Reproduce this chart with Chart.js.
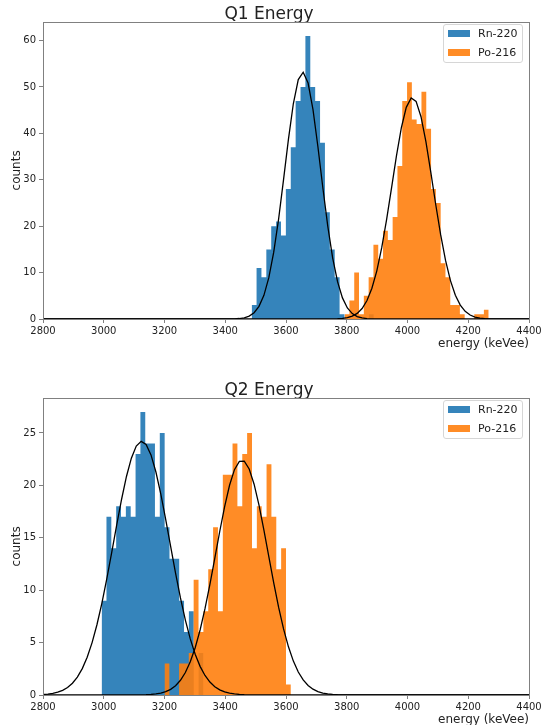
<!DOCTYPE html>
<html>
<head>
<meta charset="utf-8">
<script src="https://cdn.jsdelivr.net/npm/chart.js@4.4.1/dist/chart.umd.min.js"></script>
<style>
    html, body { margin: 0; padding: 0; background: #fff; overflow: hidden; }
    #page { position: relative; width: 549px; height: 725px; overflow: hidden; }
    .panel { position: absolute; left: 0; width: 549px; height: 376px; }
    .legend {
        position: absolute; left: 443px; top: 24px; width: 78px; height: 37px;
        border: 1px solid #d6d6d6; border-radius: 3px; background: rgba(255, 255, 255, 0.8);
        font-family: 'DejaVu Sans', sans-serif; font-size: 11px; color: #222;
    }
    .legend .sw { position: absolute; left: 4px; width: 22px; height: 7px; }
    .legend .txt { position: absolute; left: 34px; height: 13px; line-height: 13px; white-space: nowrap; }
</style>
</head>
<body>
<div id="page">
    <div class="panel" style="top: 0">
        <canvas id="q1Chart" width="549" height="376"></canvas>
        <div class="legend" id="q1Legend"></div>
    </div>
    <div class="panel" style="top: 376px">
        <canvas id="q2Chart" width="549" height="376"></canvas>
        <div class="legend" id="q2Legend"></div>
    </div>
</div>
<script>
// Axis ticks
const energyTicks = [2800, 3000, 3200, 3400, 3600, 3800, 4000, 4200, 4400];
const q1CountTicks = [0, 10, 20, 30, 40, 50, 60];
const q2CountTicks = [0, 5, 10, 15, 20, 25];

const seriesNames = ['Rn-220', 'Po-216'];

// Q1 histograms (first bin edge, bin width in keVee, counts per bin)
const q1RnStart = 3487;
const q1RnWidth = 16.08;
const q1RnCounts = [3, 11, 9, 15, 20, 21, 18, 28, 37, 47, 50, 61, 50, 47, 38, 23, 15, 9, 1, 0, 0, 0, 0, 0, 1];
const q1PoStart = 3793;
const q1PoWidth = 15.81;
const q1PoCounts = [1, 4, 10, 1, 5, 9, 16, 13, 19, 17, 22, 33, 47, 51, 43, 42, 49, 41, 28, 25, 12, 9, 3, 3, 1, 0, 0, 1, 1, 2];

// Q2 histograms
const q2RnStart = 2993;
const q2RnWidth = 15.96;
const q2RnCounts = [9, 17, 14, 18, 17, 18, 17, 23, 27, 24, 24, 17, 25, 16, 13, 13, 9, 6, 8, 0, 4];
const q2PoStart = 3200;
const q2PoWidth = 16.0;
const q2PoCounts = [3, 0, 0, 3, 3, 4, 11, 6, 8, 12, 16, 8, 21, 21, 24, 18, 23, 25, 14, 18, 17, 22, 17, 12, 14, 1];

// Gaussian fits: [amplitude, mean, sigma]
const q1RnFit = [53.2, 3655, 59];
const q1PoFit = [47.7, 4016, 67];
const q2RnFit = [24.2, 3125, 92];
const q2PoFit = [22.4, 3455, 86];

const FONT = "'DejaVu Sans', sans-serif";
const TEXT = '#222';
const SPINE = '#808080';
const RN_COLOR = 'rgba(31, 119, 180, 0.9)';
const PO_COLOR = 'rgba(255, 127, 14, 0.9)';
const TITLE_CENTER = 269;

function histPoints(start, width, counts) {
    // left edge of every bin, plus the right edge of the last one
    const pts = counts.map((c, i) => ({ x: start + i * width, y: c }));
    pts.push({ x: start + counts.length * width, y: counts[counts.length - 1] });
    return pts;
}

function fitCurve([amp, mu, sigma]) {
    const lo = energyTicks[0];
    const hi = energyTicks[energyTicks.length - 1];
    const pts = [];
    for (let i = 0; i < 100; i++) {
        const x = lo + i * (hi - lo) / 99;
        pts.push({ x, y: amp * Math.exp(-((x - mu) ** 2) / (2 * sigma * sigma)) });
    }
    return pts;
}

// full box around the axes, like matplotlib spines
const spinesPlugin = {
    id: 'spines',
    afterLayout(chart) {
        // the figure title sits a bit left of the axes centre
        const t = chart.titleBlock;
        if (t) {
            t.left = TITLE_CENTER - 120;
            t.right = TITLE_CENTER + 120;
        }
    },
    afterDatasetsDraw(chart) {
        const { ctx, chartArea: a } = chart;
        ctx.save();
        ctx.strokeStyle = SPINE;
        ctx.lineWidth = 1;
        ctx.strokeRect(Math.round(a.left) + 0.5, Math.round(a.top) + 0.5,
            Math.round(a.right - a.left), Math.round(a.bottom - a.top));
        ctx.restore();
    }
};

function histDataset(label, points, color, order) {
    return {
        label, data: points, stepped: 'before', fill: 'origin',
        backgroundColor: color, borderWidth: 0, pointRadius: 0, order
    };
}

function curveDataset(label, points) {
    return {
        label, data: points, borderColor: '#000', borderWidth: 1.3,
        pointRadius: 0, fill: false, tension: 0, order: 0
    };
}

function makeChart(canvasId, title, yTicks, yMax, rn, po, rnFit, poFit) {
    return new Chart(document.getElementById(canvasId), {
        type: 'line',
        data: {
            datasets: [
                histDataset(seriesNames[0], rn, RN_COLOR, 2),
                histDataset(seriesNames[1], po, PO_COLOR, 1),
                curveDataset(seriesNames[0] + ' fit', fitCurve(rnFit)),
                curveDataset(seriesNames[1] + ' fit', fitCurve(poFit))
            ]
        },
        options: {
            responsive: false,
            animation: false,
            events: [],
            layout: { padding: { left: 0, right: 20, top: 0, bottom: 0 } },
            plugins: {
                legend: { display: false },
                tooltip: { enabled: false },
                title: {
                    display: true, text: title, fullSize: false, color: TEXT,
                    font: { family: FONT, size: 17, weight: 'normal', lineHeight: 0.9 },
                    padding: { top: 6.5, bottom: 0 }
                }
            },
            scales: {
                x: {
                    type: 'linear',
                    min: energyTicks[0],
                    max: energyTicks[energyTicks.length - 1],
                    afterBuildTicks: s => { s.ticks = energyTicks.map(v => ({ value: v })); },
                    afterFit: s => { s.height = 57; },
                    border: { display: false },
                    grid: { drawOnChartArea: false, drawTicks: true, tickLength: 4, color: SPINE },
                    ticks: {
                        color: TEXT, font: { family: FONT, size: 10 }, padding: 2,
                        maxRotation: 0, autoSkip: false, callback: v => String(v)
                    },
                    title: {
                        display: true, text: 'energy (keVee)', align: 'end', color: TEXT,
                        font: { family: FONT, size: 12 }, padding: { top: 0, bottom: 25 }
                    }
                },
                y: {
                    min: 0,
                    max: yMax,
                    afterBuildTicks: s => { s.ticks = yTicks.map(v => ({ value: v })); },
                    afterFit: s => { s.width = 43; },
                    border: { display: false },
                    grid: { drawOnChartArea: false, drawTicks: true, tickLength: 4, color: SPINE },
                    ticks: { color: TEXT, font: { family: FONT, size: 10 }, padding: 3, callback: v => String(v) },
                    title: {
                        display: true, text: 'counts', color: TEXT,
                        font: { family: FONT, size: 12 }, padding: { top: 10, bottom: 0 }
                    }
                }
            }
        },
        plugins: [spinesPlugin]
    });
}

function buildLegend(id) {
    const colors = [RN_COLOR, PO_COLOR];
    const el = document.getElementById(id);
    el.innerHTML = seriesNames.map((name, i) => `
        <span class="sw" style="background:${colors[i]};top:${5 + i * 19}px"></span>
        <span class="txt" style="top:${2 + i * 19}px">${name}</span>`).join('');
}

makeChart('q1Chart', 'Q1 Energy', q1CountTicks, 64.05,
    histPoints(q1RnStart, q1RnWidth, q1RnCounts),
    histPoints(q1PoStart, q1PoWidth, q1PoCounts), q1RnFit, q1PoFit);

makeChart('q2Chart', 'Q2 Energy', q2CountTicks, 28.35,
    histPoints(q2RnStart, q2RnWidth, q2RnCounts),
    histPoints(q2PoStart, q2PoWidth, q2PoCounts), q2RnFit, q2PoFit);

buildLegend('q1Legend');
buildLegend('q2Legend');
</script>
</body>
</html>
